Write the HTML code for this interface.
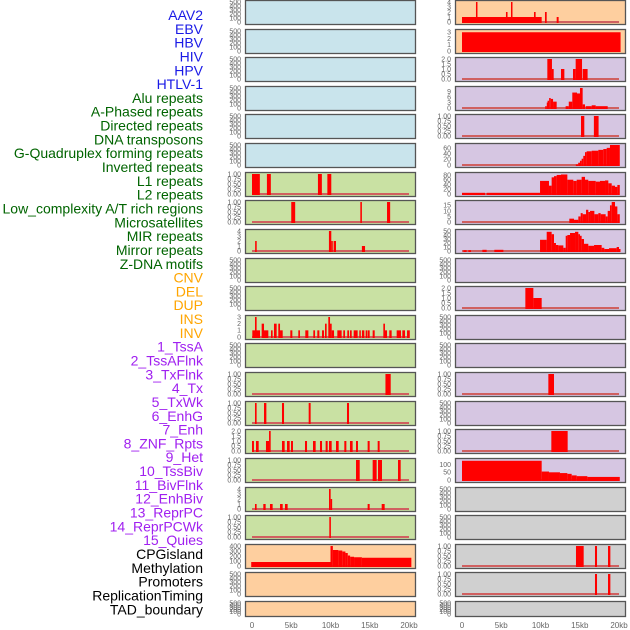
<!DOCTYPE html>
<html><head><meta charset="utf-8">
<style>
html,body{margin:0;padding:0;background:#fff;width:630px;height:630px;overflow:hidden}
svg{display:block}
.lab{font-family:"Liberation Sans",sans-serif;font-size:14px}
.tk{font-family:"Liberation Sans",sans-serif;font-size:7px;fill:#666}
.ax{font-family:"Liberation Sans",sans-serif;font-size:8px;fill:#666}
</style></head>
<body>
<svg id="chart" width="630" height="630" viewBox="0 0 630 630"></svg>
<script>
// ---- labels ----
const trackLabels = ["AAV2","EBV","HBV","HIV","HPV","HTLV-1","Alu repeats","A-Phased repeats","Directed repeats","DNA transposons","G-Quadruplex forming repeats","Inverted repeats","L1 repeats","L2 repeats","Low_complexity A/T rich regions","Microsatellites","MIR repeats","Mirror repeats","Z-DNA motifs","CNV","DEL","DUP","INS","INV","1_TssA","2_TssAFlnk","3_TxFlnk","4_Tx","5_TxWk","6_EnhG","7_Enh","8_ZNF_Rpts","9_Het","10_TssBiv","11_BivFlnk","12_EnhBiv","13_ReprPC","14_ReprPCWk","15_Quies","CPGisland","Methylation","Promoters","ReplicationTiming","TAD_boundary"];
const labelGroups = [6,13,5,15,5];
const groupColors = ["#1a1ae6","#006400","#ffa500","#a020f0","#000000"];
const xTicks = [0,5,10,15,20];
const xTickLabels = ["0","5kb","10kb","15kb","20kb"];

// ---- data: [startKb, endKb, value] ----
const L7 = [[0,1.0,1],[1.9,2.4,1],[8.4,8.9,1],[9.6,10.1,1]];
const L8 = [[5.0,5.5,1],[13.8,14.0,1],[17.2,17.6,1]];
const L9 = [[0.4,0.6,2],[9.8,10.1,4],[10.1,10.2,2],[10.4,10.7,2],[14.0,14.4,1]];
const L12 = [[0.04,1.02,1],[0.38,0.59,3],[1.23,1.53,2],[1.53,2.08,1],[2.42,2.63,1],[2.80,3.14,2],[3.35,3.57,2],[3.57,3.91,1],[4.88,5.14,1],[5.90,6.11,1],[6.79,7.18,1],[7.81,8.03,1],[8.32,8.58,1],[8.92,9.17,1],[9.30,9.51,2],[9.72,9.94,3],[9.94,10.15,2],[10.15,10.45,1],[10.87,11.42,1],[11.63,11.85,1],[12.14,12.36,1],[12.48,12.70,1],[12.95,13.46,1],[13.67,13.84,1],[14.01,14.31,1],[14.48,14.65,1],[14.73,14.99,1],[15.37,15.63,1],[16.73,16.94,2],[16.94,17.20,1],[17.49,17.79,1],[18.43,18.98,1],[19.15,19.49,1],[19.75,20.1,1]];
const L14 = [[17.0,17.67,1]];
const L15 = [[0.38,0.59,1],[1.53,1.83,1],[3.82,4.08,1],[7.22,7.47,1],[12.1,12.36,1]];
const L16 = [[0,0.25,1],[0.51,0.85,1],[1.78,2.17,1],[2.17,2.38,2],[3.82,4.16,1],[4.46,4.80,1],[4.97,5.22,1],[6.75,7.01,1],[7.77,8.11,1],[8.66,8.92,1],[9.38,9.64,1],[9.81,10.15,1],[10.70,11.04,1],[11.76,12.02,1],[12.48,12.82,1],[13.25,13.50,1],[14.73,14.99,1],[16.01,16.26,1]];
const L17 = [[13.25,13.72,1],[15.37,15.88,1],[16.05,16.56,1],[18.6,18.94,1]];
const L18 = [[0.38,0.59,1],[1.44,1.74,1],[2.29,2.63,1],[3.57,3.91,1],[4.20,4.54,1],[9.81,10.02,4],[10.02,10.15,2],[14.73,14.99,1],[16.52,16.90,1]];
const L19 = [[9.85,10.05,1]];
const L20 = [[-0.1,10,80],[10,10.3,400],[10.3,11,320],[11,11.5,310],[11.5,11.9,290],[11.9,12.2,260],[12.2,12.5,210],[12.5,13,185],[13,14,175],[14,20.3,165]];
const R1 = [[0,10.15,1],[1.78,1.95,4],[5.6,5.8,2],[6.24,6.41,4],[9.17,9.38,2],[10.57,10.79,2],[12.06,12.31,1]];
const R2 = [[0,20.2,3]];
const R3 = [[10.87,11.46,2],[11.46,11.68,1],[12.61,13.04,1],[14.14,14.48,1],[14.48,15.29,2],[15.37,16.0,1]];
const R4 = [[10.6,10.8,1],[10.8,10.9,3],[10.9,11.1,4],[11.1,11.3,5.5],[11.3,11.6,5],[11.6,12.06,3.5],[13.2,13.6,1],[13.6,14.05,3.5],[14.05,14.65,8.5],[14.65,15.03,8],[15.03,15.37,11],[15.37,15.67,2],[15.75,16.52,1],[16.52,17.03,1.5],[17.03,18.56,1]];
const R5 = [[15.16,15.58,1],[16.8,17.4,1]];
const R6 = [[14.5,14.8,2],[14.8,15.03,8],[15.03,15.24,15],[15.24,15.45,22],[15.45,15.67,32],[15.67,15.88,45],[15.88,16.52,48],[16.52,17.37,50],[17.37,18.0,53],[18.0,18.43,56],[18.43,18.85,60],[18.85,20.1,70]];
const R7 = [[0,2.93,5],[3.14,9.94,5],[9.94,11.08,55],[11.08,11.42,35],[11.42,11.72,70],[11.72,12.06,75],[12.06,12.61,80],[12.61,13.42,82],[13.42,14.18,60],[14.18,14.61,55],[14.61,15.24,60],[15.24,15.67,72],[15.67,16.09,60],[16.09,17.03,55],[17.03,17.58,52],[17.58,18.22,55],[18.22,18.64,57],[18.64,19.07,45],[19.07,19.49,35],[19.49,19.79,30],[19.79,20.1,38]];
const R8 = [[13.67,14.27,3],[14.27,14.82,2],[14.82,15.12,5],[15.12,15.37,8],[15.37,15.8,7],[15.8,16.09,11],[16.09,16.31,9],[16.31,16.86,10],[16.86,17.37,7],[17.37,17.66,8],[17.66,18.3,7],[18.3,18.56,5],[18.56,18.85,10],[18.85,19.07,15],[19.07,19.49,18],[19.49,19.79,14],[19.79,20.1,7]];
const R9 = [[0.17,0.59,2],[0.81,1.15,2],[2.59,3.14,3],[4.12,5.27,3],[9.94,10.79,28],[10.79,11.42,48],[11.42,11.72,42],[11.72,11.97,20],[11.97,12.27,15],[12.27,12.91,14],[12.91,13.21,8],[13.21,13.42,38],[13.42,13.76,40],[13.76,14.4,45],[14.4,14.82,48],[14.82,15.03,42],[15.03,15.24,38],[15.24,15.54,30],[15.54,16.09,18],[16.09,16.82,13],[16.82,17.79,15],[17.79,18.13,8],[18.13,18.73,5],[18.73,19.7,7],[19.7,20.0,10],[20.0,20.1,5]];
const R11 = [[8.07,9.09,2],[9.09,10.15,1]];
const R14 = [[11.0,11.72,1]];
const R16 = [[11.38,13.46,1]];
const R17 = [[0,10.15,125],[10.15,11.08,55],[11.08,12.48,50],[12.48,13.42,45],[13.42,13.97,40],[13.97,14.61,30],[14.61,15.97,25],[15.97,20.1,20]];
const R20 = [[14.52,15.5,1],[16.94,17.2,1],[18.6,18.9,1]];
const R21 = [[16.94,17.2,1],[18.6,18.9,1]];

// ---- tick label sets ----
const tEmpty = ["0","100","200","300","400","500"];
const tFrac = ["0.00","0.25","0.50","0.75","1.00"];
const tTwo = ["0.0","0.5","1.0","1.5","2.0"];
const tFour = ["0","1","2","3","4"];
const tThree = ["0","1","2","3"];

// ---- panel specs: [row, col, bg, data, ymax, tickLabels, tickValues] ----
const BLUE="#c9e4ec", GREEN="#c9e1a3", ORANGE="#fecf9f", PURPLE="#d6c6e2", GRAY="#d0d0d0";
const panels = [];
function E(r,c,bg){panels.push([r,c,bg,null,500,tEmpty,[0,100,200,300,400,500]]);}
for(let r=0;r<6;r++) E(r,0,BLUE);
panels.push([6,0,GREEN,L7,1,tFrac,[0,.25,.5,.75,1]]);
panels.push([7,0,GREEN,L8,1,tFrac,[0,.25,.5,.75,1]]);
panels.push([8,0,GREEN,L9,4,tFour,[0,1,2,3,4]]);
E(9,0,GREEN); E(10,0,GREEN);
panels.push([11,0,GREEN,L12,3,tThree,[0,1,2,3]]);
E(12,0,GREEN);
panels.push([13,0,GREEN,L14,1,tFrac,[0,.25,.5,.75,1]]);
panels.push([14,0,GREEN,L15,1,tFrac,[0,.25,.5,.75,1]]);
panels.push([15,0,GREEN,L16,2,tTwo,[0,.5,1,1.5,2]]);
panels.push([16,0,GREEN,L17,1,tFrac,[0,.25,.5,.75,1]]);
panels.push([17,0,GREEN,L18,4,tFour,[0,1,2,3,4]]);
panels.push([18,0,GREEN,L19,1,tFrac,[0,.25,.5,.75,1]]);
panels.push([19,0,ORANGE,L20,400,["0","100","200","300","400"],[0,100,200,300,400]]);
E(20,0,ORANGE); E(21,0,ORANGE);
panels.push([0,1,ORANGE,R1,4,tFour,[0,1,2,3,4]]);
panels.push([1,1,ORANGE,R2,3.2,tThree,[0,1,2,3]]);
panels.push([2,1,PURPLE,R3,2,tTwo,[0,.5,1,1.5,2]]);
panels.push([3,1,PURPLE,R4,11,["0","3","6","9"],[0,3,6,9]]);
panels.push([4,1,PURPLE,R5,1,tFrac,[0,.25,.5,.75,1]]);
panels.push([5,1,PURPLE,R6,70,["0","20","40","60"],[0,20,40,60]]);
panels.push([6,1,PURPLE,R7,84,["0","20","40","60","80"],[0,20,40,60,80]]);
panels.push([7,1,PURPLE,R8,18,["0","5","10","15"],[0,5,10,15]]);
panels.push([8,1,PURPLE,R9,50,["0","10","20","30","40","50"],[0,10,20,30,40,50]]);
E(9,1,PURPLE);
panels.push([10,1,PURPLE,R11,2,tTwo,[0,.5,1,1.5,2]]);
E(11,1,PURPLE); E(12,1,PURPLE);
panels.push([13,1,PURPLE,R14,1,tFrac,[0,.25,.5,.75,1]]);
E(14,1,PURPLE);
panels.push([15,1,PURPLE,R16,1,tFrac,[0,.25,.5,.75,1]]);
panels.push([16,1,PURPLE,R17,130,["0","50","100"],[0,50,100]]);
E(17,1,GRAY); E(18,1,GRAY);
panels.push([19,1,GRAY,R20,1,tFrac,[0,.25,.5,.75,1]]);
panels.push([20,1,GRAY,R21,1,tFrac,[0,.25,.5,.75,1]]);
E(21,1,GRAY);

const NS="http://www.w3.org/2000/svg";
const svg=document.getElementById('chart');
function mk(tag,attrs,parent){const e=document.createElementNS(NS,tag);for(const k in attrs)e.setAttribute(k,attrs[k]);(parent||svg).appendChild(e);return e;}

// geometry
const rowTop = r => r<21 ? Math.round(r*28.62) : 601;
const rowH = r => r<21 ? 25 : 16;
const colLeft = c => c===0 ? 245 : 455;
const panelW = 171;
const xScale = (c,kb) => colLeft(c) + 7 + kb*7.85;

// labels
let li=0;
labelGroups.forEach((n,g)=>{
  for(let k=0;k<n;k++){
    const t=mk('text',{x:203,y:15+li*13.82+5,'text-anchor':'end',class:'lab',fill:groupColors[g]});
    t.textContent=trackLabels[li];
    
    
    li++;
  }
});

// panels
panels.forEach(p=>{
  const [r,c,bg,data,ymax,tl,tv]=p;
  const top=rowTop(r), h=rowH(r), left=colLeft(c);
  const g=mk('g',{});
  
  
  mk('rect',{x:left,y:top,width:panelW,height:h,fill:bg},g);
  const y0=top+h-3, y1=top+2;
  const ys = v => y0 - v/ymax*(y0-y1);
  if(data){
    mk('rect',{x:xScale(c,0),y:y0-1,width:20*7.85,height:2,fill:'#d06060'},g);
    data.forEach(d=>{
      const x0=xScale(c,d[0]), x1=xScale(c,d[1]);
      const b=mk('rect',{x:x0,y:ys(d[2]),width:Math.max(1.5,x1-x0),height:y0+1-ys(d[2]),fill:'#ff0000'},g);
      
      
    });
  }
  mk('rect',{x:left+0.5,y:top+0.5,width:panelW-1,height:h-1,fill:'none',stroke:'#555','stroke-width':1.3},g);
  tv.forEach((v,i)=>{
    const t=mk('text',{x:left-4,y:ys(v)+2.4,'text-anchor':'end',class:'tk'},g);
    t.textContent=tl[i];
    
    
  });
});

// x axes
[0,1].forEach(c=>{
  xTicks.forEach((v,i)=>{
    const t=mk('text',{x:xScale(c,v),y:628,'text-anchor':'middle',class:'ax'});
    t.textContent=xTickLabels[i];
    
    
  });
});
</script>
</body></html>
